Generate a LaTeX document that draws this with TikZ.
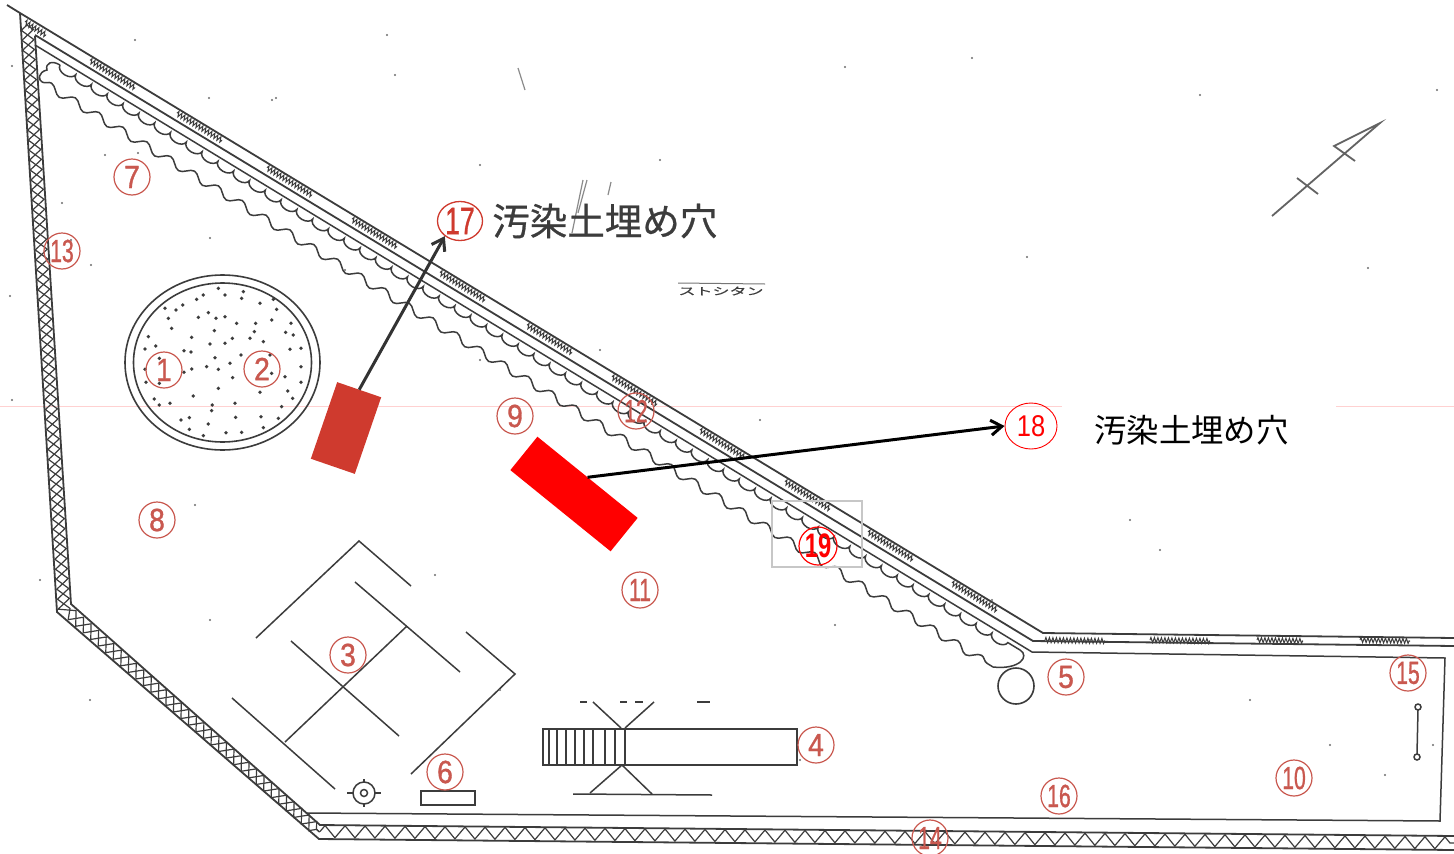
\documentclass[tikz,border=0pt]{standalone}
\usepackage{fontspec}
\setmainfont{Liberation Sans}
\newfontfamily\numfont[FakeBold=1.2]{Liberation Sans}
\newfontfamily\cjk{Noto Sans CJK JP}
\newfontfamily\cjkm[FakeBold=.7]{Noto Sans CJK JP}
\usetikzlibrary{arrows.meta,decorations.pathmorphing,shapes.geometric,positioning}
\definecolor{inkline}{HTML}{3C3C3C}
\definecolor{numred}{HTML}{C9584F}
\definecolor{pitred}{HTML}{CF3A2E}
\newcommand{\numtxt}[1]{\ifnum#1>9 \scalebox{.66}[1]{#1}\else\scalebox{.88}[1]{#1}\fi}
\begin{document}
\begin{tikzpicture}[x=1pt,y=-1pt,
	inkl/.style={draw=inkline,line width=1.8pt},
	thinl/.style={draw=inkline,line width=1.5pt},
	lattice/.style={draw=inkline,line width=1.2pt,decorate,decoration={zigzag,amplitude=6pt,segment length=20pt}},
	latticeb/.style={draw=inkline,line width=1.2pt,decorate,decoration={zigzag,amplitude=6pt,segment length=20pt,mirror}},
	fencemark/.style={draw=inkline,line width=1pt,decorate,decoration={zigzag,amplitude=2.5pt,segment length=3.5pt}},
	numc/.style={circle,draw=numred,text=numred,line width=1.2pt,minimum size=36pt,inner sep=0pt,font=\numfont\fontsize{32}{32}\selectfont}]
	\useasboundingbox (0,0) rectangle (1454,854);
	\fill[white] (0,0) rectangle (1454,854);
	% faint scan line
	\draw[draw=red!18,line width=.8pt] (0,406) -- (1062,406) (1336,406) -- (1454,406);
	% fence, top side
	\draw[inkl] (7,5) -- (20,13) -- (1043,633) -- (1454,638);
	\draw[inkl] (35,35) -- (1033,641) -- (1454,646);
	\foreach \hx in {90,177,267,352,440,527,612,700,785,868,952}
		\draw[fencemark] (\hx,{18+.606*(\hx-20)}) -- ({\hx+45},{18+.606*(\hx+25)});
	\draw[fencemark] (25,22) -- (46,35);
	\foreach \hx/\hw in {1045/60,1150/60,1257/46,1360/50}
		\draw[fencemark] (\hx,640) -- ({\hx+\hw},641);
	% fence, lattice sides
	\draw[inkl] (20,13) -- (57,612) -- (319,839) -- (1454,850);
	\draw[inkl] (35,36) -- (71,604) -- (320,825) -- (1454,836);
	\draw[lattice] (27,25) -- (64,608) -- (319.5,832);
	\draw[latticeb] (27,25) -- (64,608) -- (319.5,832);
	\draw[lattice] (320,831.5) -- (1454,843);
	% inner fence
	\draw[thinl] (35,45) -- (1032,652) -- (1445,658) -- (1440,821) -- (307,813);
	% trees
	\draw[thinl,decorate,decoration={snake,amplitude=4pt,segment length=28pt}] (42,82) -- (993,667);
	\draw[thinl,decorate,decoration={bumps,amplitude=6pt,segment length=37pt,mirror}] (60,65) -- (1020,650);
	\draw[thinl] (60,65) .. controls (52,60) and (45,63) .. (47,70) .. controls (38,72) and (38,80) .. (42,82);
	\draw[thinl] (1020,650) .. controls (1030,656) and (1020,670) .. (993,667);
	\node[circle,draw=inkline,line width=1.6pt,minimum size=36pt,inner sep=0pt] (well) at (1016,686) {};
	% pool
	\node[ellipse,draw=inkline,line width=1.6pt,minimum width=195pt,minimum height=175pt,inner sep=0pt] (poolout) at (222.5,362.5) {};
	\node[ellipse,draw=inkline,line width=1.6pt,minimum width=178pt,minimum height=159pt,inner sep=0pt] (poolin) at (222.5,362.5) {};
	\foreach \dx/\dy in {325/85,400/95,345/105,395/115,280/105,260/118,218/135,450/130,490/118,198/150,165/145,500/148,295/158,265/172,318/175,345/170,175/175,485/180,380/190,543/190,437/190,185/205,313/212,433/215,527/217,550/225,115/230,245/232,137/258,367/235,420/235,460/245,300/252,345/250,105/267,222/272,243/276,540/268,573/265,480/285,148/295,393/285,315/293,360/310,573/320,290/320,245/327,325/328,222/337,105/328,485/340,368/353,525/350,573/367,108/367,148/370,325/385,533/393,450/397,250/408,133/417,548/415,180/430,148/435,375/430,307/435,305/452,515/440,213/480,238/473,377/472,453/470,505/475,295/492,460/503,238/508,395/517,348/518,280/527}
		\fill[inkline] ({110+\dx/3},{260+\dy/3}) circle (1.9pt);
	% court
	\draw[thinl] (256,638) -- (359,541) -- (411,586);
	\draw[thinl] (355,582) -- (460,672);
	\draw[thinl] (466,632) -- (515,674) -- (411,774);
	\draw[thinl] (291,641) -- (399,736);
	\draw[thinl] (407,626) -- (285,742);
	\draw[thinl] (232,698) -- (335,789);
	% target and box by the court
	\draw[thinl] (364,793) circle (11pt);
	\draw[thinl] (364,793) circle (3.5pt);
	\draw[thinl] (347,793) -- (353,793) (375,793) -- (381,793) (364,779) -- (364,782) (364,804) -- (364,807);
	\draw[thinl] (421,791) rectangle (475,805);
	% slide
	\draw[inkl] (543,729) rectangle (797,765);
	\draw[inkl] (625,729) -- (625,765);
	\foreach \sx in {549,557,566,575,584,593,605,615}
		\draw[thinl] (\sx,729) -- (\sx,765);
	\draw[thinl] (593,702) -- (621,728) (654,702) -- (625,728);
	\draw[thinl] (622,765) -- (590,793) (622,765) -- (652,794);
	\draw[thinl] (573,794) -- (712,795);
	\draw[thinl] (580,702) -- (587,702) (620,702) -- (627,702) (635,702) -- (643,702) (697,702) -- (710,702);
	% pole
	\draw[thinl] (1418,707) circle (3pt) (1417,757) circle (3pt);
	\draw[thinl] (1418,710) -- (1417,754);
	% north mark
	\draw[inkl,draw=inkline!80] (1272,216) -- (1380,123) -- (1334,146) -- (1355,161);
	\draw[inkl,draw=inkline!80] (1297,178) -- (1318,194);
	% scribbles
	\draw[draw=inkline!70,line width=1pt] (678,283) -- (765,284);
	\node[text=inkline,font=\cjkm\fontsize{17}{17}\selectfont,inner sep=0pt] (scrib) at (721,291) {\scalebox{1}[.6]{ストシタン}};
	\draw[draw=inkline!60,line width=1.2pt] (583,180) -- (572,233) (587,180) -- (578,213) (611,182) -- (608,195) (518,68) -- (525,90);
	\foreach \sx/\sy in {135/40,209/98,276/98,272/100,12/66,387/35,395/75,62/203,71/240,91/265,210/238,345/270,10/296,105/155,138/153,480/165,660/160,845/67,972/58,1200/95,1368/268,1437/90,1027/257,1130/520,992/600,835/625,1250/700,1330/745,1433/745,1385/775,1090/640,480/360,600/350,435/575,195/505,40/580,12/400,210/620,90/700,500/690,1160/550,800/760,760/420}
		\fill[inkline!75] (\sx,\sy) circle (1.2pt);
	% numbered marks
	\foreach \nm/\px/\py in {1/164/370,2/262/369,3/348/655,4/816/745,5/1066/677,6/445/772,7/132/177,8/157/520,9/515/416,10/1294/778,11/640/590,12/636/411,13/62/251,14/930/838,15/1408/673,16/1059/796}
		\node[numc] (n\nm) at (\px,\py) {\numtxt{\nm}};
	\draw[draw=black!22,line width=1.3pt] (772,501) rectangle (862,567);
	\node[numc,draw=red,text=red,minimum size=38pt,font=\fontsize{34}{34}\bfseries\selectfont] (n19) at (818,546) {\scalebox{.7}[1]{19}};
	\node[ellipse,draw=pitred,text=pitred,line width=1.3pt,minimum width=45pt,minimum height=39pt,inner sep=0pt,font=\numfont\fontsize{38}{38}\selectfont] (n17) at (460,221) {\scalebox{.7}[1]{17}};
	\node[ellipse,draw=red,text=red,line width=.9pt,minimum width=52pt,minimum height=46pt,inner sep=0pt,font=\fontsize{30}{30}\selectfont] (n18) at (1031,426) {\scalebox{.85}[1]{18}};
	\node[text=inkline,font=\cjkm\fontsize{37.5}{37.5}\selectfont,inner sep=0pt,right=9pt of n17] (lab17) {汚染土埋め穴};
	\node[text=black,font=\cjk\fontsize{32.4}{32.4}\selectfont,inner sep=0pt,anchor=west] (lab18) at (1094,430) {汚染土埋め穴};
	% pits and arrows
	\node[fill=pitred,minimum width=46.5pt,minimum height=81pt,inner sep=0pt,outer sep=0pt,rotate=-19] (pit17) at (346,428) {};
	\node[fill=red,minimum width=129pt,minimum height=43pt,inner sep=0pt,outer sep=0pt,rotate=-39] (pit18) at (574,494) {};
	\draw[-{Straight Barb[length=11pt,width=15pt]},draw=black!80,line width=3pt] (pit17.north) -- (n17.225);
	\draw[-{Straight Barb[length=11pt,width=15pt]},draw=black,line width=3pt] (pit18.north) -- (n18.west);
\end{tikzpicture}
\end{document}
